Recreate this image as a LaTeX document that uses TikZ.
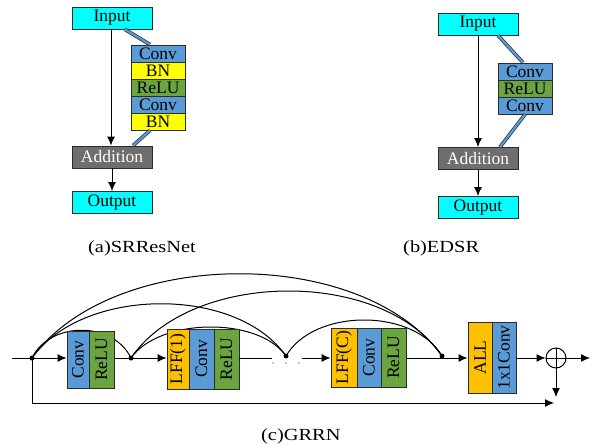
\documentclass[tikz,border=0pt]{standalone}
\usepackage{fontspec}
\usepackage{graphicx}
\setmainfont{Liberation Serif}
\newfontfamily\capfont[FakeStretch=1.2]{Liberation Serif}
\usetikzlibrary{arrows.meta}
\definecolor{incyan}{HTML}{00FFFF}
\definecolor{convblue}{HTML}{5B9BD5}
\definecolor{bnyellow}{HTML}{FFFF00}
\definecolor{relugreen}{HTML}{6AA541}
\definecolor{addgray}{HTML}{6E6E6E}
\definecolor{lfforange}{HTML}{FFC000}
\definecolor{edge}{HTML}{2B2B2B}
\tikzset{
  box/.style={draw=edge, line width=0.9pt, inner sep=0pt, font=\fontsize{17.5}{17.5}\selectfont},
  io/.style={box, fill=incyan, minimum width=80pt, minimum height=22pt},
  addbox/.style={io, fill=addgray, text=white},
  cell/.style={box, minimum width=54pt, minimum height=17pt},
  arr/.style={-{Latex[length=9pt,width=8pt]}, line width=1pt},
  plain/.style={line width=1pt},
  curve/.style={line width=1pt},
  dbl/.style={draw=edge, line width=0.7pt, double=convblue, double distance=2.2pt},
  dotn/.style={circle, fill=black, inner sep=0pt, minimum size=5pt},
  smalldot/.style={circle, fill=convblue, inner sep=0pt, minimum size=1.8pt},
  captext/.style={font=\capfont\fontsize{17}{17}\selectfont, inner sep=0pt, anchor=base west},
}
\begin{document}
\begin{tikzpicture}[x=1pt,y=-1pt]
\useasboundingbox (0,0) rectangle (599,444);

% ---------- (a) SRResNet ----------
\node[io] (a_in) at (112,18) {Input};
\node[cell, fill=convblue] (a_c1) at (158,53.5) {Conv};
\node[cell, fill=bnyellow] (a_b1) at (158,70.5) {BN};
\node[cell, fill=relugreen] (a_r) at (158,87.5) {ReLU};
\node[cell, fill=convblue] (a_c2) at (158,104.5) {Conv};
\node[cell, fill=bnyellow] (a_b2) at (158,121.5) {BN};
\node[addbox] (a_add) at (112,157) {Addition};
\node[io] (a_out) at (112,202.5) {Output};
\draw[arr] ([xshift=-1pt]a_in.south) -- ([xshift=-1pt]a_add.north);
\draw[arr] (a_add) -- (a_out);
\draw[dbl] ([xshift=13pt]a_in.south) -- ([xshift=-8pt]a_c1.north);
\draw[dbl] ([xshift=-8pt]a_b2.south) -- ([xshift=21pt]a_add.north);
\node[captext] (capa) at (88,252) {(a)SRResNet};

% ---------- (b) EDSR ----------
\node[io] (b_in) at (478,24) {Input};
\node[cell, fill=convblue] (b_c1) at (525,71.5) {Conv};
\node[cell, fill=relugreen] (b_r) at (525,88.5) {ReLU};
\node[cell, fill=convblue] (b_c2) at (525,105.5) {Conv};
\node[addbox] (b_add) at (478,158.5) {Addition};
\node[io] (b_out) at (478,207.5) {Output};
\draw[arr] (b_in.south) -- (b_add.north);
\draw[arr] (b_add) -- (b_out);
\draw[dbl] ([xshift=20pt]b_in.south) -- ([xshift=-2pt]b_c1.north);
\draw[dbl] (b_c2.south) -- ([xshift=22pt]b_add.north);
\node[captext] (capb) at (403,252) {(b)EDSR};

% ---------- (c) GRRN ----------
\coordinate (cin) at (12,358);
\node[dotn] (d1) at (32,358) {};
\node[dotn] (d2) at (131,358) {};
\node[dotn] (d3) at (286,356) {};
\node[dotn] (d4) at (442,356) {};

% skip curves (behind boxes)
\draw[curve] (d1.center) .. controls +(18,-37) and +(-18,-37) .. (d2.center);
\draw[curve] (d1.center) .. controls +(50,-71) and +(-50,-71) .. (d3.center);
\draw[curve] (d1.center) .. controls +(80,-111) and +(-80,-111) .. (d4.center);
\draw[curve] (d2.center) .. controls +(28,-40) and +(-28,-40) .. (d3.center);
\draw[curve] (d2.center) .. controls +(60,-88) and +(-60,-88) .. (d4.center);
\draw[curve] (d3.center) .. controls +(28,-48) and +(-28,-48) .. (d4.center);

% blocks
\node[box, fill=convblue, minimum width=22pt, minimum height=57pt] (c_conv1) at (78,359.5) {\rotatebox{90}{Conv}};
\node[box, fill=relugreen, minimum width=25pt, minimum height=57pt] (c_relu1) at (101.5,359.5) {\rotatebox{90}{ReLU}};
\node[box, fill=lfforange, minimum width=22pt, minimum height=60pt] (c_lff1) at (178,359) {\rotatebox{90}{LFF(1)}};
\node[box, fill=convblue, minimum width=25pt, minimum height=60pt] (c_conv2) at (201.5,359) {\rotatebox{90}{Conv}};
\node[box, fill=relugreen, minimum width=25pt, minimum height=60pt] (c_relu2) at (226.5,359) {\rotatebox{90}{ReLU}};
\node[box, fill=lfforange, minimum width=26pt, minimum height=59pt] (c_lffc) at (344,357.5) {\rotatebox{90}{LFF(C)}};
\node[box, fill=convblue, minimum width=24pt, minimum height=59pt] (c_convc) at (369,357.5) {\rotatebox{90}{Conv}};
\node[box, fill=relugreen, minimum width=25pt, minimum height=59pt] (c_reluc) at (393.5,357.5) {\rotatebox{90}{ReLU}};
\node[box, fill=lfforange, minimum width=24pt, minimum height=71pt] (c_all) at (480,357.5) {\rotatebox{90}{ALL}};
\node[box, fill=convblue, minimum width=24pt, minimum height=71pt] (c_1x1) at (504,357.5) {\rotatebox{90}{1x1Conv}};
\node[draw=black, circle, line width=1pt, minimum size=20pt, inner sep=0pt] (sum) at (556,358) {};
\draw[line width=1pt] (sum.north) -- (sum.south) (sum.west) -- (sum.east);

% main line
\draw[arr] (cin) -- (c_conv1.west |- cin);
\draw[arr] (c_relu1.east |- d2) -- (c_lff1.west |- d2);
\coordinate (gapl) at (272,358);
\coordinate (gapr) at (302,358);
\draw[plain] (c_relu2.east |- gapl) -- (gapl);
\draw[arr] (gapr) -- (c_lffc.west |- gapr);
\draw[arr] (c_reluc.east |- sum) -- (c_all.west |- sum);
\draw[arr] (c_1x1.east |- sum) -- (sum.west);
\coordinate (cout) at (590,358);
\coordinate (cdown) at (556,397);
\draw[arr] (sum.east) -- (cout);
\draw[arr] (sum.south) -- (cdown);
\coordinate (lb) at (32,403);
\coordinate (le) at (554,403);
\draw[arr] (d1.center) -- (lb) -- (le);

% dots
\node[smalldot] (s1) at (273,363) {};
\node[smalldot] (s2) at (286,363) {};
\node[smalldot] (s3) at (299,363) {};

\node[captext] (capc) at (261,440) {(c)GRRN};
\end{tikzpicture}
\end{document}
